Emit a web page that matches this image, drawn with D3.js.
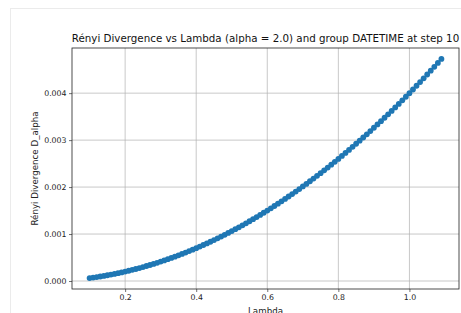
<!DOCTYPE html>
<html>
<head>
<meta charset="utf-8">
<script src="https://cdn.jsdelivr.net/npm/d3@7"></script>
<style>
  html, body { margin: 0; padding: 0; background: #fff; }
  svg { display: block; font-family: "DejaVu Sans", sans-serif; }
</style>
</head>
<body>
<div id="chart"></div>
<script>
const lambdas = [
  0.10, 0.11, 0.12, 0.13, 0.14, 0.15, 0.16, 0.17, 0.18, 0.19,
  0.20, 0.21, 0.22, 0.23, 0.24, 0.25, 0.26, 0.27, 0.28, 0.29,
  0.30, 0.31, 0.32, 0.33, 0.34, 0.35, 0.36, 0.37, 0.38, 0.39,
  0.40, 0.41, 0.42, 0.43, 0.44, 0.45, 0.46, 0.47, 0.48, 0.49,
  0.50, 0.51, 0.52, 0.53, 0.54, 0.55, 0.56, 0.57, 0.58, 0.59,
  0.60, 0.61, 0.62, 0.63, 0.64, 0.65, 0.66, 0.67, 0.68, 0.69,
  0.70, 0.71, 0.72, 0.73, 0.74, 0.75, 0.76, 0.77, 0.78, 0.79,
  0.80, 0.81, 0.82, 0.83, 0.84, 0.85, 0.86, 0.87, 0.88, 0.89,
  0.90, 0.91, 0.92, 0.93, 0.94, 0.95, 0.96, 0.97, 0.98, 0.99,
  1.00, 1.01, 1.02, 1.03, 1.04, 1.05, 1.06, 1.07, 1.08, 1.09
];

const divergence = [
  0.000063, 0.000073, 0.000084, 0.000096, 0.000109, 0.000122, 0.000136, 0.000151, 0.000167, 0.000183,
  0.000200, 0.000218, 0.000237, 0.000256, 0.000276, 0.000297, 0.000319, 0.000341, 0.000364, 0.000388,
  0.000413, 0.000438, 0.000464, 0.000491, 0.000519, 0.000547, 0.000576, 0.000606, 0.000637, 0.000668,
  0.000700, 0.000733, 0.000767, 0.000801, 0.000836, 0.000872, 0.000909, 0.000946, 0.000984, 0.001023,
  0.001063, 0.001103, 0.001144, 0.001186, 0.001229, 0.001272, 0.001316, 0.001361, 0.001407, 0.001453,
  0.001500, 0.001548, 0.001597, 0.001646, 0.001696, 0.001747, 0.001799, 0.001851, 0.001904, 0.001958,
  0.002013, 0.002068, 0.002124, 0.002181, 0.002239, 0.002297, 0.002356, 0.002416, 0.002477, 0.002538,
  0.002600, 0.002663, 0.002727, 0.002791, 0.002856, 0.002922, 0.002989, 0.003056, 0.003124, 0.003193,
  0.003263, 0.003333, 0.003404, 0.003476, 0.003549, 0.003622, 0.003696, 0.003771, 0.003847, 0.003923,
  0.004000, 0.004078, 0.004157, 0.004236, 0.004316, 0.004397, 0.004479, 0.004561, 0.004644, 0.004728
];

const xTicks = [0.2, 0.4, 0.6, 0.8, 1.0];
const yTicks = [0.000, 0.001, 0.002, 0.003, 0.004];

const titleText = "Rényi Divergence vs Lambda (alpha = 2.0) and group DATETIME at step 10";
const xLabel = "Lambda";
const yLabel = "Rényi Divergence D_alpha";

const width = 461, height = 313;
const margin = { top: 48, right: 2, bottom: 24, left: 72 };
const blue = "#1f77b4";

const svg = d3.select("#chart").append("svg")
  .attr("width", width)
  .attr("height", height);

// faint outer frame of the figure
svg.append("rect")
  .attr("x", 10.5).attr("y", 8.5)
  .attr("width", 480).attr("height", 340)
  .attr("fill", "none")
  .attr("stroke", "#ebebeb")
  .attr("stroke-width", 1);

// matplotlib style 5% margins on the data range
const xExt = d3.extent(lambdas), yExt = d3.extent(divergence);
const xPad = (xExt[1] - xExt[0]) * 0.05, yPad = (yExt[1] - yExt[0]) * 0.05;

const x = d3.scaleLinear()
  .domain([xExt[0] - xPad, xExt[1] + xPad])
  .range([margin.left, width - margin.right]);

const y = d3.scaleLinear()
  .domain([yExt[0] - yPad, yExt[1] + yPad])
  .range([height - margin.bottom, margin.top]);

// grid
svg.append("g")
  .selectAll("line")
  .data(xTicks)
  .join("line")
  .attr("x1", d => x(d)).attr("x2", d => x(d))
  .attr("y1", margin.top).attr("y2", height - margin.bottom)
  .attr("stroke", "#b0b0b0").attr("stroke-width", 0.7);

svg.append("g")
  .selectAll("line")
  .data(yTicks)
  .join("line")
  .attr("x1", margin.left).attr("x2", width - margin.right)
  .attr("y1", d => y(d)).attr("y2", d => y(d))
  .attr("stroke", "#b0b0b0").attr("stroke-width", 0.7);

// axes
const xAxis = d3.axisBottom(x)
  .tickValues(xTicks)
  .tickFormat(d3.format(".1f"))
  .tickSize(3)
  .tickPadding(2.5)
  .tickSizeOuter(0);

const yAxis = d3.axisLeft(y)
  .tickValues(yTicks)
  .tickFormat(d3.format(".3f"))
  .tickSize(3)
  .tickPadding(2.5)
  .tickSizeOuter(0);

const gX = svg.append("g")
  .attr("transform", `translate(0,${height - margin.bottom})`)
  .call(xAxis);

const gY = svg.append("g")
  .attr("transform", `translate(${margin.left},0)`)
  .call(yAxis);

[gX, gY].forEach(g => {
  g.select(".domain").remove();
  g.selectAll(".tick line").attr("stroke", "#333").attr("stroke-width", 0.7);
  g.selectAll(".tick text")
    .attr("fill", "#222")
    .style("font-size", "7.8px")
    .style("font-family", "DejaVu Sans, sans-serif");
});

// spines
svg.append("rect")
  .attr("x", margin.left).attr("y", margin.top)
  .attr("width", width - margin.right - margin.left)
  .attr("height", height - margin.bottom - margin.top)
  .attr("fill", "none")
  .attr("stroke", "#222")
  .attr("stroke-width", 0.8);

// line + markers
const line = d3.line()
  .x((d, i) => x(lambdas[i]))
  .y(d => y(d));

svg.append("path")
  .datum(divergence)
  .attr("fill", "none")
  .attr("stroke", blue)
  .attr("stroke-width", 1.2)
  .attr("d", line);

svg.append("g")
  .selectAll("circle")
  .data(divergence)
  .join("circle")
  .attr("cx", (d, i) => x(lambdas[i]))
  .attr("cy", d => y(d))
  .attr("r", 2.9)
  .attr("fill", blue);

// texts
svg.append("text")
  .attr("x", (margin.left + width - margin.right) / 2)
  .attr("y", 41.5)
  .attr("text-anchor", "middle")
  .attr("fill", "#111")
  .style("font-size", "10.3px")
  .text(titleText);

svg.append("text")
  .attr("x", (margin.left + width - margin.right) / 2)
  .attr("y", 314)
  .attr("text-anchor", "middle")
  .attr("fill", "#222")
  .style("font-size", "8.7px")
  .text(xLabel);

svg.append("text")
  .attr("transform", `translate(38,${(margin.top + height - margin.bottom) / 2}) rotate(-90)`)
  .attr("text-anchor", "middle")
  .attr("fill", "#222")
  .style("font-size", "8.7px")
  .text(yLabel);
</script>
</body>
</html>
